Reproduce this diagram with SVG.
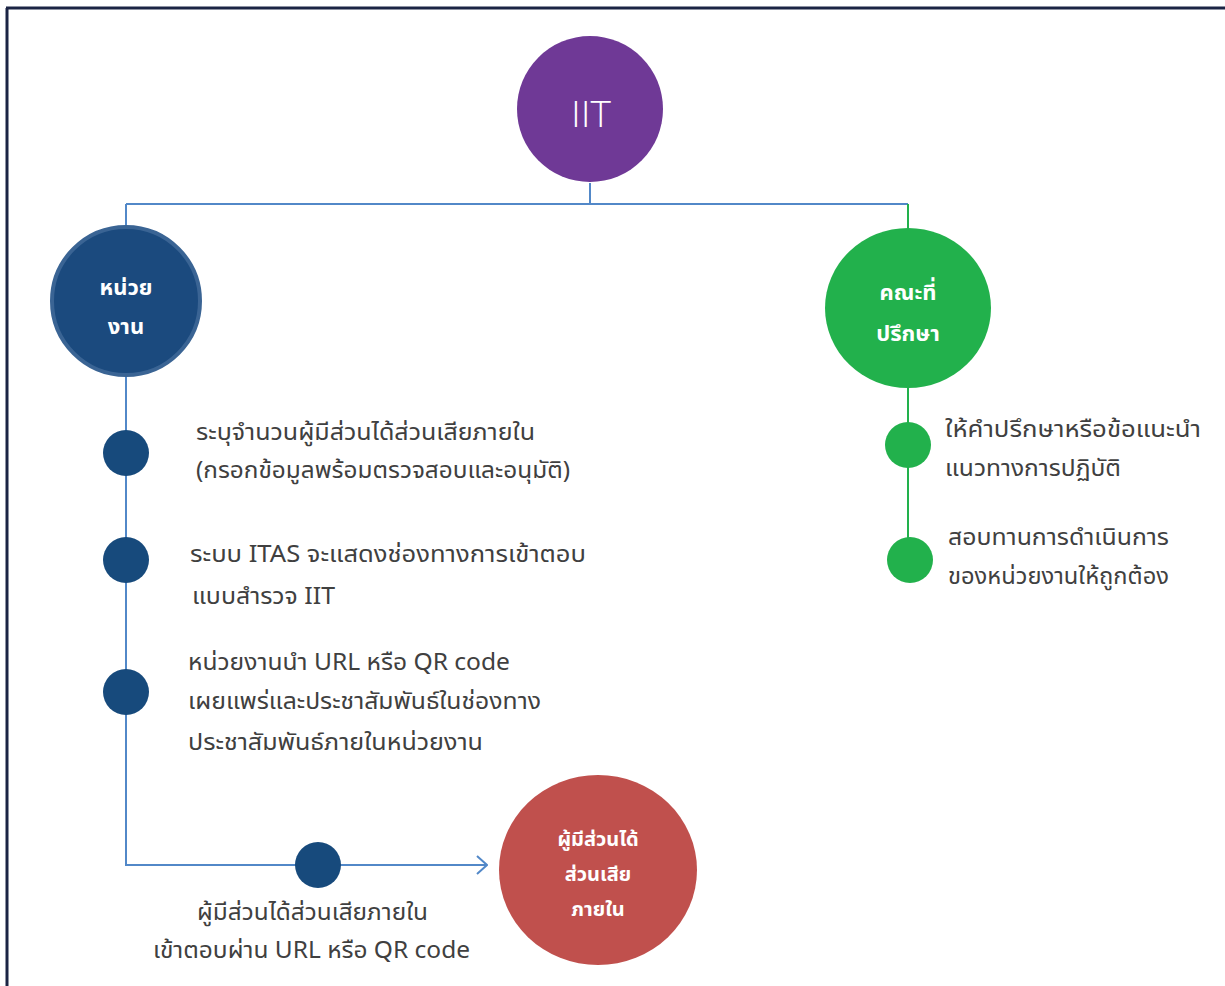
<svg xmlns="http://www.w3.org/2000/svg" width="1225" height="986" viewBox="0 0 1225 986">
<style>
.t{font-family:"Noto Sans","Noto Sans Thai","Leelawadee UI",Tahoma,sans-serif;font-size:23px;fill:#404040;}
.w{font-family:"Noto Sans","Noto Sans Thai","Leelawadee UI",Tahoma,sans-serif;fill:#ffffff;font-weight:bold;text-anchor:middle;}
.bl{stroke:#5288c8;stroke-width:2;fill:none;}
.gl{stroke:#22b14c;stroke-width:2;fill:none;}
.bd{fill:#174a7c;}
.gd{fill:#22b14c;}
</style>
<defs>
<marker id="arr" markerWidth="12" markerHeight="20" refX="11" refY="10" orient="auto" markerUnits="userSpaceOnUse">
<path d="M1,1 L11,10 L1,19" fill="none" stroke="#5288c8" stroke-width="2"/>
</marker>
</defs>
<rect x="0" y="0" width="1225" height="986" fill="#ffffff"/>
<g id="frame">
<line x1="6" y1="8" x2="1225" y2="8" stroke="#1b2444" stroke-width="3"/>
<line x1="7" y1="8" x2="7" y2="986" stroke="#1b2444" stroke-width="3"/>
</g>
<g id="connectors">
<line class="bl" x1="590" y1="183" x2="590" y2="204"/>
<line class="bl" x1="126" y1="204" x2="908" y2="204"/>
<line class="bl" x1="126" y1="204" x2="126" y2="230"/>
<line class="gl" x1="908" y1="204" x2="908" y2="230"/>
<path class="bl" d="M126,374 L126,865 L487,865" marker-end="url(#arr)"/>
<line class="gl" x1="908" y1="388" x2="908" y2="560"/>
</g>
<g id="iit">
<circle cx="590" cy="109" r="73" fill="#6f3996"/>
<text x="591" y="127" font-family="'Open Sans','Liberation Sans',sans-serif" font-weight="300" font-size="36" fill="#ffffff" text-anchor="middle" textLength="40" lengthAdjust="spacingAndGlyphs">IIT</text>
</g>
<g id="unit">
<circle cx="126" cy="301" r="74" fill="#1b4a7e" stroke="#3a6494" stroke-width="4"/>
<text class="w" x="126" y="295" font-size="22">หน่วย</text>
<text class="w" x="126" y="334" font-size="22">งาน</text>
</g>
<g id="advisor">
<ellipse cx="908" cy="308" rx="83" ry="80" fill="#22b14c"/>
<text class="w" x="908" y="300" font-size="22">คณะที่</text>
<text class="w" x="908" y="341" font-size="22">ปรึกษา</text>
</g>
<g id="stakeholder">
<ellipse cx="598" cy="870" rx="99" ry="95" fill="#c0504d"/>
<text class="w" x="598" y="846" font-size="20">ผู้มีส่วนได้</text>
<text class="w" x="598" y="881" font-size="20">ส่วนเสีย</text>
<text class="w" x="598" y="916" font-size="20">ภายใน</text>
</g>
<g id="step1">
<circle class="bd" cx="126" cy="453" r="23"/>
<text class="t" x="196" y="440" textLength="339" lengthAdjust="spacingAndGlyphs">ระบุจำนวนผู้มีส่วนได้ส่วนเสียภายใน</text>
<text class="t" x="196" y="478" textLength="374" lengthAdjust="spacingAndGlyphs">(กรอกข้อมูลพร้อมตรวจสอบและอนุมัติ)</text>
</g>
<g id="step2">
<circle class="bd" cx="126" cy="560" r="23"/>
<text class="t" x="190" y="562" textLength="396" lengthAdjust="spacingAndGlyphs">ระบบ ITAS จะแสดงช่องทางการเข้าตอบ</text>
<text class="t" x="192" y="604" textLength="143" lengthAdjust="spacingAndGlyphs">แบบสำรวจ IIT</text>
</g>
<g id="step3">
<circle class="bd" cx="126" cy="692" r="23"/>
<text class="t" x="188" y="670" textLength="322" lengthAdjust="spacingAndGlyphs">หน่วยงานนำ URL หรือ QR code</text>
<text class="t" x="188" y="709" textLength="353" lengthAdjust="spacingAndGlyphs">เผยแพร่และประชาสัมพันธ์ในช่องทาง</text>
<text class="t" x="188" y="750" textLength="295" lengthAdjust="spacingAndGlyphs">ประชาสัมพันธ์ภายในหน่วยงาน</text>
</g>
<g id="step4">
<circle class="bd" cx="318" cy="865" r="23"/>
<text class="t" x="197" y="920" textLength="231" lengthAdjust="spacingAndGlyphs">ผู้มีส่วนได้ส่วนเสียภายใน</text>
<text class="t" x="153" y="958" textLength="317" lengthAdjust="spacingAndGlyphs">เข้าตอบผ่าน URL หรือ QR code</text>
</g>
<g id="advice1">
<circle class="gd" cx="908" cy="445" r="23"/>
<text class="t" x="945" y="437" textLength="256" lengthAdjust="spacingAndGlyphs">ให้คำปรึกษาหรือข้อแนะนำ</text>
<text class="t" x="945" y="476" textLength="176" lengthAdjust="spacingAndGlyphs">แนวทางการปฏิบัติ</text>
</g>
<g id="advice2">
<circle class="gd" cx="910" cy="560" r="23"/>
<text class="t" x="948" y="545" textLength="221" lengthAdjust="spacingAndGlyphs">สอบทานการดำเนินการ</text>
<text class="t" x="948" y="584" textLength="221" lengthAdjust="spacingAndGlyphs">ของหน่วยงานให้ถูกต้อง</text>
</g>
</svg>
